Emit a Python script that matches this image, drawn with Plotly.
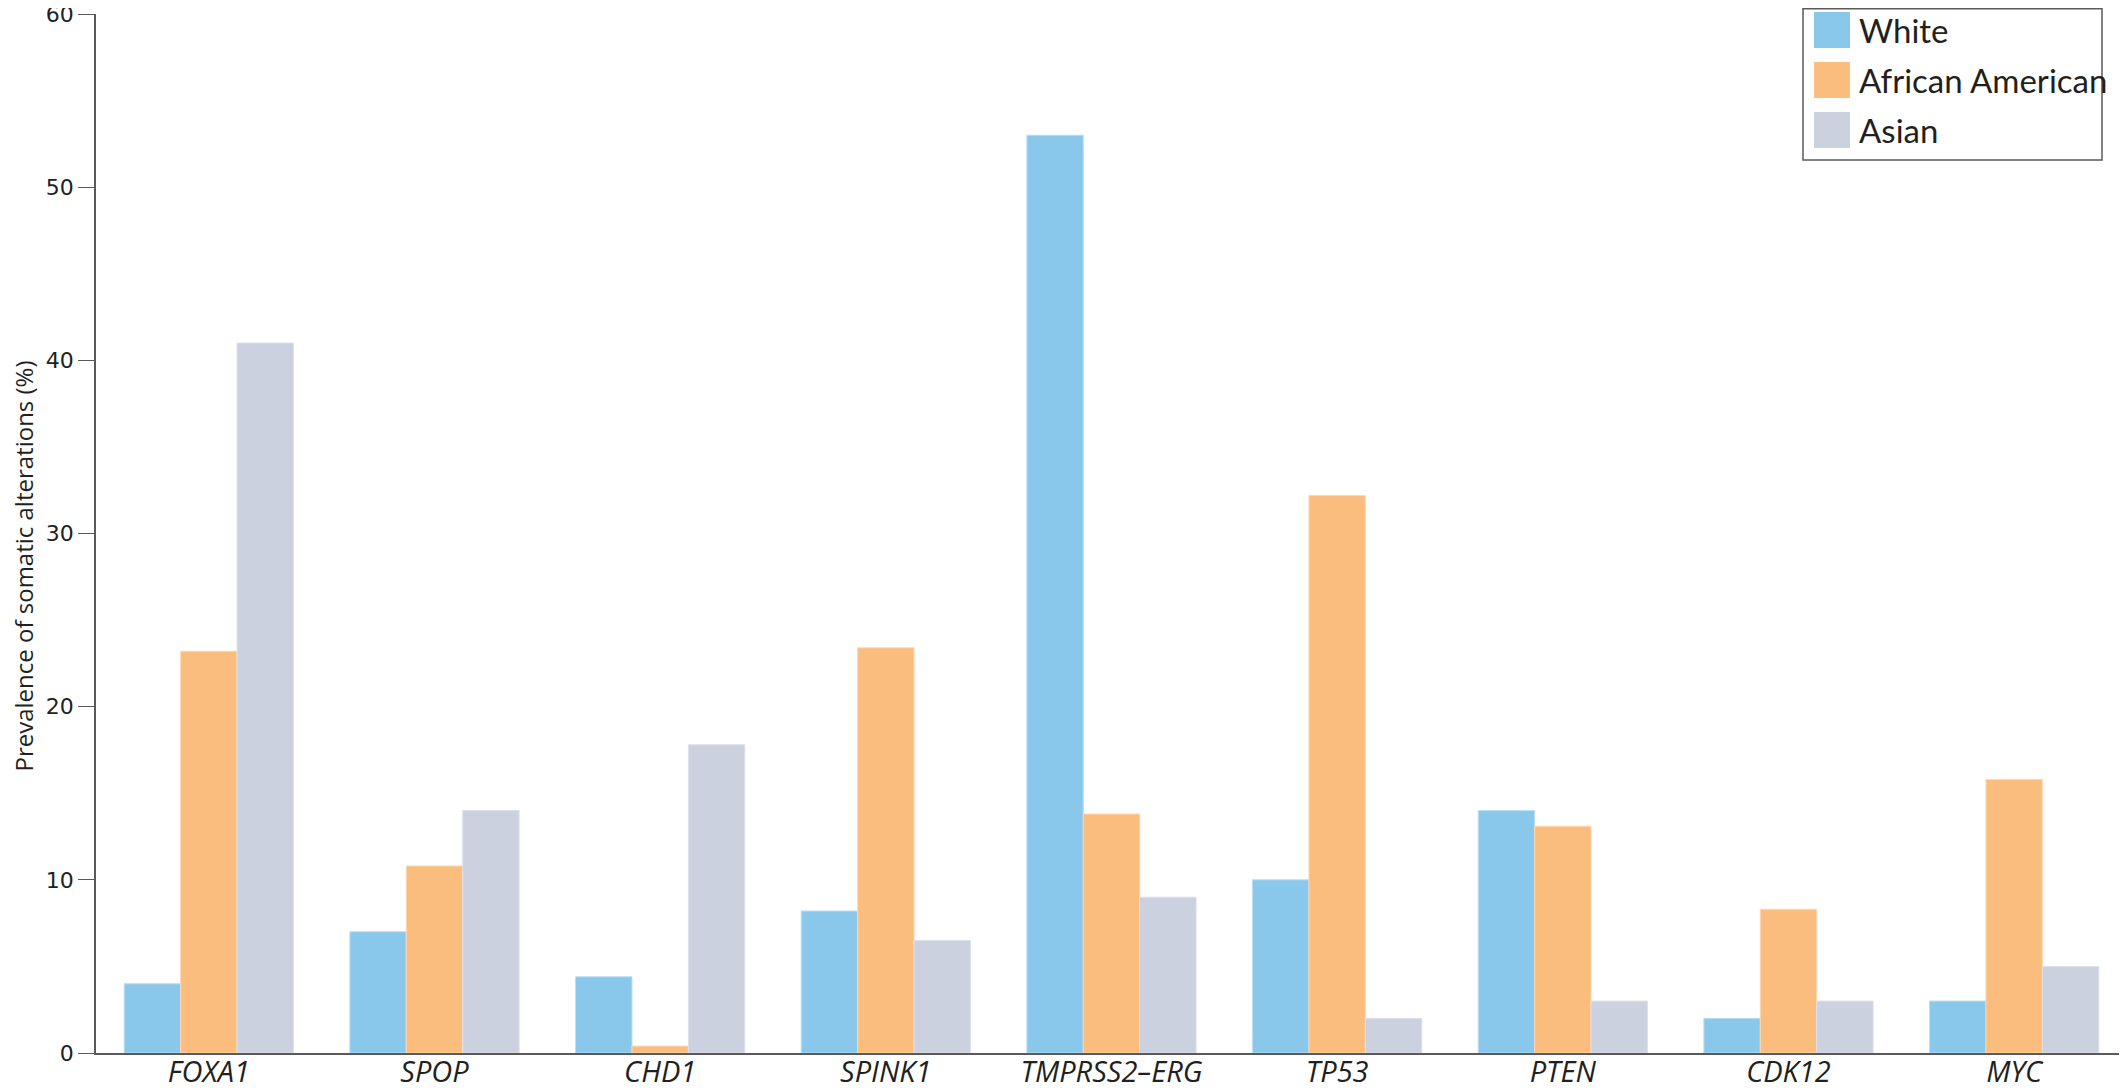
"""Somatic alteration prevalence by ancestry — grouped bar chart."""

import plotly.graph_objects as go

# the page body adds an 8px margin, so the figure is made 8px smaller
OFF = 8
W, H = 2127 - OFF, 1090 - OFF
L, R, T, B = 96 - OFF, 0, 14 - OFF, 37

genes = ["FOXA1", "SPOP", "CHD1", "SPINK1", "TMPRSS2–ERG", "TP53", "PTEN", "CDK12", "MYC"]
white = [4.0, 7.0, 4.4, 8.2, 53.0, 10.0, 14.0, 2.0, 3.0]
african_american = [23.2, 10.8, 0.4, 23.4, 13.8, 32.2, 13.1, 8.3, 15.8]
asian = [41.0, 14.0, 17.8, 6.5, 9.0, 2.0, 3.0, 3.0, 5.0]

series = [
    ("White", white, "#8AC8EB", "#B9DDF3"),
    ("African American", african_american, "#FBBD7E", "#FDD8B3"),
    ("Asian", asian, "#CBD1DE", "#DDE1EA"),
]

SANS = "Open Sans, Noto Sans, sans-serif"
AXIS = "#5a5a5a"
INK = "#231f20"

fig = go.Figure()
for name, vals, col, edge in series:
    fig.add_trace(go.Bar(
        x=genes, y=vals, name=name, showlegend=False,
        marker=dict(color=col, line=dict(color=edge, width=1)),
    ))


def px_x(p):
    # page pixel -> paper coordinate
    return (p - OFF - L) / (W - L - R)


def px_y(p):
    return (H - B - (p - OFF)) / (H - T - B)


# hand-drawn legend box (plotly's bar swatches are too small)
shapes = [dict(type="rect", xref="paper", yref="paper",
               x0=px_x(1803), x1=px_x(2102), y0=px_y(160), y1=px_y(8.8),
               line=dict(color=AXIS, width=1.5), fillcolor="white", layer="above")]
annotations = []
for i, (name, _, col, _) in enumerate(series):
    cy = 30 + 50 * i
    shapes.append(dict(type="rect", xref="paper", yref="paper",
                       x0=px_x(1814), x1=px_x(1850), y0=px_y(cy + 18), y1=px_y(cy - 18),
                       line=dict(width=0), fillcolor=col, layer="above"))
    annotations.append(dict(xref="paper", yref="paper", x=px_x(1857), y=px_y(cy),
                            text=name, showarrow=False, xanchor="left", yanchor="middle",
                            font=dict(family="Lato, Open Sans, sans-serif", size=33, color=INK)))

# y title as an annotation so it sits where the original puts it
annotations.append(dict(xref="paper", yref="paper", x=px_x(4), y=px_y(566),
                        text="Prevalence of somatic alterations (%)", textangle=-90,
                        showarrow=False, xanchor="left", yanchor="middle",
                        font=dict(family=SANS, size=24, color=INK)))

fig.update_layout(
    width=W, height=H,
    margin=dict(l=L, r=R, t=T, b=B),
    plot_bgcolor="white", paper_bgcolor="white",
    barmode="group", bargap=0.25, bargroupgap=0,
    shapes=shapes, annotations=annotations,
    xaxis=dict(
        showline=True, linecolor=AXIS, linewidth=1.5, ticks="",
        showgrid=False, zeroline=False, automargin=False,
        ticklabelstandoff=-8,
        tickfont=dict(family=SANS, size=29, color=INK, style="italic"),
    ),
    yaxis=dict(
        range=[0, 60], dtick=10, showgrid=False, zeroline=False,
        showline=True, linecolor=AXIS, linewidth=1.5,
        ticks="outside", ticklen=16, tickwidth=1.2, tickcolor=AXIS,
        ticklabeloverflow="allow",
        tickfont=dict(family="DejaVu Sans", size=22, color=INK),
        automargin=False,
    ),
)

fig.write_html("out.html")
